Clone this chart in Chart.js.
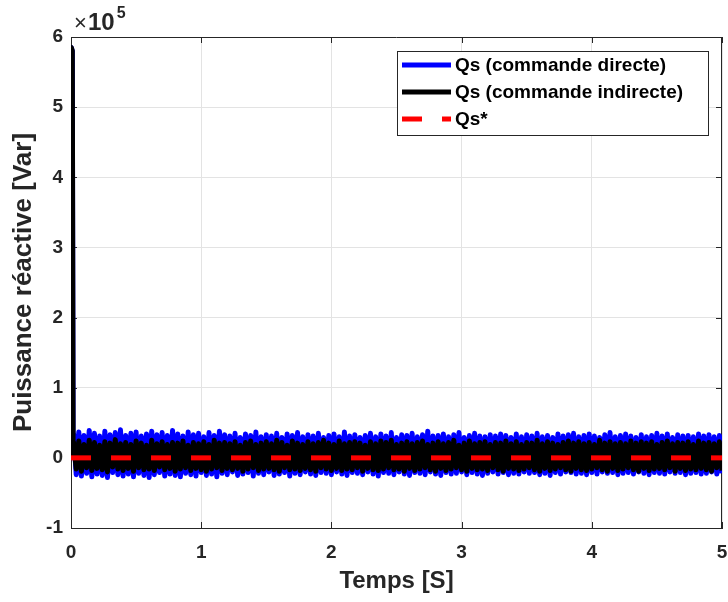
<!DOCTYPE html>
<html>
<head>
<meta charset="utf-8">
<script src="https://cdn.jsdelivr.net/npm/chart.js@4.4.0/dist/chart.umd.min.js"></script>
<style>
  html, body { margin: 0; padding: 0; background: #fff; }
  #wrap { width: 728px; height: 602px; position: relative; }
</style>
</head>
<body>
<div id="wrap"><canvas id="qsChart"></canvas></div>
<script>
// values in units of 1e5 Var
const spikeTime = [0, 0.002, 0.01, 0.016];
const spikeDirect = [0, 5.85, 5.80, 0.30];
const spikeIndirect = [0, 5.85, 5.80, 0.22];

const sampleStep = 0.02; // s, noise part starts at 0.02

const qsDirect = [
    0.34,-0.24,0.37,-0.26,0.32,-0.22,0.39,-0.27,0.35,-0.23,
    0.31,-0.25,0.38,-0.28,0.33,-0.21,0.36,-0.24,0.40,-0.26,
    0.32,-0.23,0.35,-0.27,0.37,-0.22,0.31,-0.25,0.34,-0.28,
    0.38,-0.24,0.33,-0.21,0.36,-0.26,0.32,-0.23,0.39,-0.25,
    0.34,-0.27,0.31,-0.22,0.37,-0.24,0.33,-0.26,0.35,-0.21,
    0.30,-0.25,0.36,-0.23,0.32,-0.27,0.38,-0.22,0.33,-0.24,
    0.31,-0.20,0.35,-0.25,0.29,-0.23,0.34,-0.21,0.32,-0.26,
    0.37,-0.22,0.30,-0.24,0.33,-0.20,0.31,-0.25,0.35,-0.23,
    0.29,-0.21,0.34,-0.26,0.32,-0.22,0.36,-0.24,0.30,-0.20,
    0.33,-0.23,0.31,-0.25,0.35,-0.21,0.29,-0.22,0.32,-0.24,
    0.34,-0.20,0.30,-0.23,0.37,-0.25,0.31,-0.21,0.33,-0.22,
    0.29,-0.24,0.32,-0.20,0.35,-0.23,0.30,-0.26,0.34,-0.21,
    0.31,-0.22,0.36,-0.24,0.29,-0.20,0.33,-0.23,0.32,-0.25,
    0.35,-0.21,0.30,-0.22,0.33,-0.24,0.38,-0.20,0.31,-0.23,
    0.32,-0.25,0.34,-0.21,0.30,-0.23,0.33,-0.22,0.36,-0.20,
    0.29,-0.24,0.32,-0.21,0.35,-0.23,0.31,-0.25,0.30,-0.22,
    0.33,-0.20,0.31,-0.23,0.34,-0.21,0.32,-0.24,0.29,-0.22,
    0.34,-0.23,0.30,-0.20,0.33,-0.22,0.31,-0.21,0.35,-0.24,
    0.30,-0.22,0.32,-0.25,0.29,-0.21,0.34,-0.23,0.31,-0.20,
    0.33,-0.21,0.35,-0.23,0.30,-0.22,0.32,-0.24,0.34,-0.21,
    0.31,-0.23,0.29,-0.20,0.33,-0.22,0.36,-0.21,0.30,-0.24,
    0.32,-0.22,0.34,-0.21,0.31,-0.23,0.29,-0.20,0.33,-0.22,
    0.30,-0.24,0.32,-0.21,0.35,-0.22,0.31,-0.23,0.34,-0.20,
    0.29,-0.22,0.33,-0.21,0.31,-0.24,0.32,-0.22,0.30,-0.21,
    0.34,-0.23,0.31,-0.22,0.33,-0.20,0.30,-0.23,0.32,-0.22
];

const qsIndirect = [
    0.21,-0.16,0.24,-0.19,0.19,-0.14,0.25,-0.18,0.22,-0.15,
    0.18,-0.17,0.23,-0.20,0.21,-0.13,0.26,-0.16,0.20,-0.18,
    0.22,-0.15,0.19,-0.19,0.24,-0.14,0.21,-0.17,0.18,-0.16,
    0.25,-0.18,0.20,-0.13,0.23,-0.17,0.19,-0.15,0.22,-0.19,
    0.21,-0.16,0.24,-0.14,0.18,-0.18,0.22,-0.15,0.20,-0.17,
    0.23,-0.19,0.19,-0.16,0.25,-0.14,0.21,-0.18,0.22,-0.15,
    0.20,-0.17,0.23,-0.15,0.18,-0.19,0.22,-0.16,0.24,-0.14,
    0.19,-0.18,0.21,-0.16,0.23,-0.15,0.20,-0.17,0.25,-0.19,
    0.22,-0.14,0.18,-0.17,0.24,-0.16,0.21,-0.18,0.19,-0.15,
    0.23,-0.17,0.20,-0.19,0.22,-0.14,0.25,-0.16,0.21,-0.18,
    0.19,-0.15,0.24,-0.18,0.20,-0.16,0.22,-0.17,0.23,-0.14,
    0.21,-0.19,0.18,-0.15,0.23,-0.17,0.20,-0.18,0.24,-0.16,
    0.22,-0.14,0.25,-0.17,0.19,-0.16,0.21,-0.19,0.23,-0.15,
    0.20,-0.18,0.22,-0.16,0.24,-0.14,0.19,-0.17,0.21,-0.19,
    0.23,-0.15,0.20,-0.18,0.22,-0.16,0.25,-0.14,0.18,-0.17,
    0.21,-0.19,0.24,-0.15,0.20,-0.17,0.22,-0.16,0.23,-0.18,
    0.19,-0.14,0.22,-0.17,0.21,-0.19,0.24,-0.15,0.20,-0.16,
    0.23,-0.18,0.19,-0.16,0.22,-0.14,0.21,-0.17,0.25,-0.19,
    0.20,-0.15,0.23,-0.18,0.21,-0.16,0.19,-0.14,0.22,-0.17,
    0.24,-0.19,0.21,-0.15,0.23,-0.17,0.20,-0.18,0.22,-0.16,
    0.19,-0.14,0.25,-0.17,0.21,-0.19,0.23,-0.15,0.20,-0.18,
    0.22,-0.16,0.20,-0.14,0.24,-0.17,0.21,-0.19,0.23,-0.15,
    0.21,-0.18,0.23,-0.16,0.19,-0.15,0.22,-0.17,0.24,-0.14,
    0.20,-0.19,0.22,-0.15,0.21,-0.18,0.23,-0.16,0.19,-0.17,
    0.24,-0.15,0.21,-0.17,0.22,-0.19,0.20,-0.14,0.23,-0.18
];

const refTime = [0, 5];
const refValue = [0, 0];

const xTicks = [0, 1, 2, 3, 4, 5];
const yTicks = [-1, 0, 1, 2, 3, 4, 5, 6];
const seriesLabels = ['Qs (commande directe)', 'Qs (commande indirecte)', 'Qs*'];

const FONT = "'Liberation Sans', Arial, Helvetica, sans-serif";
const AXIS_COLOR = '#262626';

const noiseTime = qsDirect.map((_, i) => +((i + 1) * sampleStep).toFixed(3));

function toPoints(times, values) {
    return times.map((t, i) => ({ x: t, y: values[i] }));
}

const directPoints = toPoints(spikeTime, spikeDirect).concat(toPoints(noiseTime, qsDirect));
const indirectPoints = toPoints(spikeTime, spikeIndirect).concat(toPoints(noiseTime, qsIndirect));

// box, inner tick marks (matlab style)
const axesBox = {
    id: 'axesBox',
    beforeDatasetsDraw(chart) {
        const { ctx, chartArea: a, scales } = chart;
        ctx.save();
        ctx.strokeStyle = AXIS_COLOR;
        ctx.lineWidth = 1;
        ctx.beginPath();
        ctx.moveTo(a.left, a.top + 0.5);
        ctx.lineTo(a.right, a.top + 0.5);
        ctx.moveTo(a.right - 0.5, a.top);
        ctx.lineTo(a.right - 0.5, a.bottom);
        const tl = 6;
        xTicks.forEach(v => {
            const px = Math.round(scales.x.getPixelForValue(v)) + 0.5;
            ctx.moveTo(px, a.bottom); ctx.lineTo(px, a.bottom - tl);
            ctx.moveTo(px, a.top); ctx.lineTo(px, a.top + tl);
        });
        yTicks.forEach(v => {
            const py = Math.round(scales.y.getPixelForValue(v)) + 0.5;
            ctx.moveTo(a.left, py); ctx.lineTo(a.left + tl, py);
            ctx.moveTo(a.right, py); ctx.lineTo(a.right - tl, py);
        });
        ctx.stroke();
        ctx.restore();
    },
    afterDraw(chart) {
        // exponent label above y axis
        const { ctx, chartArea: a } = chart;
        ctx.save();
        ctx.fillStyle = AXIS_COLOR;
        ctx.textBaseline = 'alphabetic';
        ctx.textAlign = 'left';
        ctx.font = '22px ' + FONT;
        ctx.fillText('\u00d7', a.left + 3, a.top - 7);
        ctx.font = 'bold 24px ' + FONT;
        ctx.fillText('10', a.left + 17, a.top - 7);
        const w10 = ctx.measureText('10').width;
        ctx.font = 'bold 16px ' + FONT;
        ctx.fillText('5', a.left + 17 + w10 + 2, a.top - 19);
        ctx.restore();
    }
};

const legendBox = {
    id: 'legendBox',
    afterDatasetsDraw(chart) {
        const { ctx, chartArea: a } = chart;
        const ds = chart.data.datasets;
        ctx.save();
        ctx.font = 'bold 19px ' + FONT;
        const tw = Math.max(...ds.map(d => ctx.measureText(d.label).width));
        const w = Math.round(58 + tw + 25);
        const h = 84;
        const x0 = Math.round(a.right - 14 - w);
        const y0 = Math.round(a.top + 14);
        ctx.fillStyle = '#fff';
        ctx.fillRect(x0, y0, w, h);
        ctx.strokeStyle = AXIS_COLOR;
        ctx.lineWidth = 1;
        ctx.strokeRect(x0 + 0.5, y0 + 0.5, w, h);
        ds.forEach((d, i) => {
            const cy = y0 + 14 + i * 27;
            ctx.beginPath();
            ctx.strokeStyle = d.borderColor;
            ctx.lineWidth = 5;
            ctx.lineCap = 'butt';
            ctx.setLineDash(d.borderDash || []);
            ctx.moveTo(x0 + 5, cy);
            ctx.lineTo(x0 + 54, cy);
            ctx.stroke();
            ctx.setLineDash([]);
            ctx.fillStyle = '#000';
            ctx.textBaseline = 'middle';
            ctx.textAlign = 'left';
            ctx.fillText(d.label, x0 + 58, cy + 1);
        });
        ctx.restore();
    }
};

const data = {
    datasets: [{
        label: seriesLabels[0],
        data: directPoints,
        borderColor: '#0000ff',
        borderWidth: 5,
        order: 2,
    }, {
        label: seriesLabels[1],
        data: indirectPoints,
        borderColor: '#000000',
        borderWidth: 5,
        order: 1,
    }, {
        label: seriesLabels[2],
        data: toPoints(refTime, refValue),
        borderColor: '#ff0000',
        borderWidth: 5,
        borderDash: [20, 20],
        borderCapStyle: 'butt',
        order: 0,
    }]
};

const options = {
    responsive: true,
    maintainAspectRatio: false,
    animation: false,
    events: [],
    layout: {
        padding: { top: 37, right: 6, left: 0, bottom: 0 }
    },
    elements: {
        point: { radius: 0 },
        line: { tension: 0, borderJoinStyle: 'round' }
    },
    datasets: {
        line: { clip: 0 }
    },
    plugins: {
        legend: { display: false },
        tooltip: { enabled: false }
    },
    scales: {
        x: {
            type: 'linear',
            min: 0,
            max: 5,
            afterBuildTicks: (scale) => { scale.ticks = xTicks.map(v => ({ value: v })); },
            afterFit: (scale) => {
                scale.height = 74;
                scale.paddingLeft = 0;
                scale.paddingRight = 0;
            },
            grid: { color: '#e3e3e3', drawTicks: false },
            border: { color: AXIS_COLOR, width: 1 },
            ticks: {
                padding: 13,
                color: AXIS_COLOR,
                font: { family: FONT, size: 19, weight: 'bold' },
                maxRotation: 0
            },
            title: {
                display: true,
                text: 'Temps [S]',
                color: AXIS_COLOR,
                font: { family: FONT, size: 24, weight: 'bold' },
                padding: { top: 0, bottom: 6 }
            }
        },
        y: {
            type: 'linear',
            min: -1,
            max: 6,
            afterBuildTicks: (scale) => { scale.ticks = yTicks.map(v => ({ value: v })); },
            afterFit: (scale) => {
                scale.width = 71;
                scale.paddingTop = 0;
                scale.paddingBottom = 0;
            },
            grid: { color: '#e3e3e3', drawTicks: false },
            border: { color: AXIS_COLOR, width: 1 },
            ticks: {
                padding: 8,
                color: AXIS_COLOR,
                font: { family: FONT, size: 19, weight: 'bold' }
            },
            title: {
                display: true,
                text: 'Puissance réactive [Var]',
                color: AXIS_COLOR,
                font: { family: FONT, size: 26, weight: 'bold' },
                padding: { top: 8, bottom: 0 }
            }
        }
    }
};

const qsChart = new Chart(document.getElementById('qsChart'), {
    type: 'line',
    data,
    options,
    plugins: [axesBox, legendBox]
});
</script>
</body>
</html>
